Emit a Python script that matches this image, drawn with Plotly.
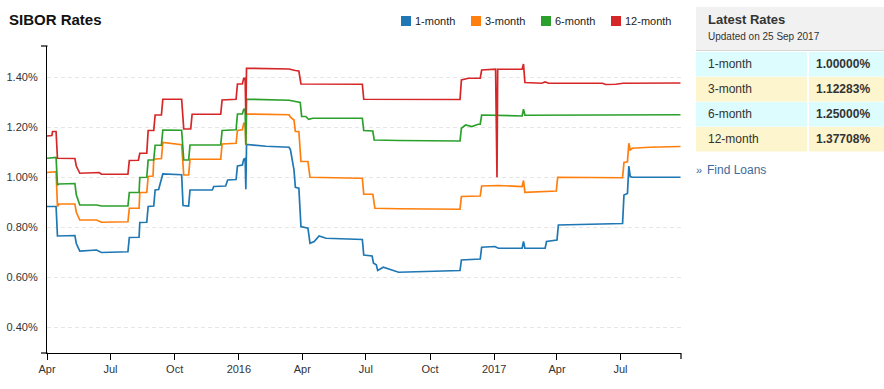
import plotly.graph_objects as go

# ---------------- data ----------------
dates_1m = ["2015-04-01","2015-04-14","2015-04-16","2015-05-11","2015-05-13","2015-05-18","2015-06-11","2015-06-18",
            "2015-07-26","2015-07-28","2015-08-11","2015-08-12","2015-08-22","2015-08-24","2015-09-01","2015-09-03",
            "2015-09-08","2015-09-14","2015-10-11","2015-10-13","2015-10-21","2015-10-23","2015-11-24","2015-11-26",
            "2015-12-13","2015-12-16","2015-12-28","2015-12-30","2016-01-06","2016-01-08","2016-01-10","2016-01-11",
            "2016-01-12","2016-02-09","2016-03-13","2016-03-15","2016-03-20","2016-03-22","2016-03-27","2016-03-30",
            "2016-04-09","2016-04-12","2016-04-18","2016-04-25","2016-05-05","2016-06-22","2016-06-26","2016-06-28",
            "2016-07-10","2016-07-12","2016-07-16","2016-07-18","2016-07-26","2016-08-17","2016-11-13","2016-11-15",
            "2016-12-12","2016-12-14","2017-01-02","2017-01-07","2017-02-10","2017-02-12","2017-02-14","2017-03-15",
            "2017-03-17","2017-04-01","2017-04-03","2017-07-04","2017-07-06","2017-07-11","2017-07-13","2017-07-15",
            "2017-07-18","2017-09-25"]
vals_1m = [0.883,0.883,0.765,0.767,0.735,0.705,0.709,0.699,
           0.702,0.759,0.760,0.819,0.820,0.883,0.885,0.949,
           0.951,1.013,1.010,0.887,0.885,0.949,0.949,0.963,
           0.965,0.989,0.991,1.045,1.049,1.072,1.075,0.952,
           1.131,1.124,1.120,1.110,1.030,0.960,0.956,0.803,
           0.796,0.736,0.743,0.765,0.756,0.750,0.751,0.689,
           0.685,0.656,0.650,0.627,0.640,0.620,0.627,0.669,
           0.673,0.720,0.723,0.716,0.716,0.743,0.716,0.716,
           0.743,0.749,0.809,0.815,0.929,0.935,1.045,1.003,
           1.000,1.000]

dates_3m = ["2015-04-01","2015-04-14","2015-04-16","2015-04-18","2015-05-11","2015-05-13","2015-05-18","2015-06-11",
            "2015-06-18","2015-07-26","2015-07-28","2015-08-11","2015-08-12","2015-08-22","2015-08-24","2015-08-31",
            "2015-09-01","2015-09-12","2015-09-14","2015-10-11","2015-10-14","2015-10-21","2015-10-23","2015-12-06",
            "2015-12-08","2015-12-28","2015-12-30","2016-01-06","2016-01-08","2016-01-10","2016-01-11","2016-01-12",
            "2016-03-13","2016-03-15","2016-03-20","2016-03-22","2016-03-27","2016-03-30","2016-04-09","2016-04-12",
            "2016-06-22","2016-06-26","2016-06-28","2016-07-11","2016-07-14","2016-08-17","2016-11-13","2016-11-15",
            "2016-12-12","2016-12-14","2017-01-07","2017-02-10","2017-02-12","2017-02-14","2017-03-31","2017-04-02",
            "2017-07-04","2017-07-06","2017-07-11","2017-07-13","2017-07-15","2017-07-18","2017-08-11","2017-09-25"]
vals_3m = [1.019,1.022,0.883,0.893,0.893,0.860,0.829,0.829,
           0.820,0.822,0.876,0.876,0.939,0.939,1.003,1.005,
           1.072,1.075,1.139,1.130,1.009,1.009,1.072,1.072,
           1.133,1.136,1.187,1.190,1.216,1.216,1.129,1.253,
           1.250,1.240,1.229,1.183,1.183,1.063,1.063,1.000,
           0.996,0.996,0.932,0.932,0.876,0.874,0.872,0.923,
           0.925,0.965,0.967,0.963,0.987,0.940,0.945,1.000,
           0.998,1.059,1.062,1.136,1.109,1.116,1.120,1.123]

dates_6m = ["2015-04-01","2015-04-14","2015-04-16","2015-04-18","2015-05-11","2015-05-13","2015-05-18","2015-06-11",
            "2015-06-18","2015-07-26","2015-07-28","2015-08-11","2015-08-12","2015-08-22","2015-08-24","2015-09-01",
            "2015-09-03","2015-09-12","2015-09-14","2015-10-11","2015-10-14","2015-10-21","2015-10-23","2015-12-06",
            "2015-12-08","2015-12-28","2015-12-30","2016-01-06","2016-01-08","2016-01-10","2016-01-11","2016-01-12",
            "2016-03-13","2016-03-24","2016-03-29","2016-03-31","2016-04-06","2016-04-10","2016-04-16","2016-06-22",
            "2016-06-26","2016-06-28","2016-07-11","2016-07-13","2016-08-17","2016-11-13","2016-11-15","2016-11-21",
            "2016-11-30","2016-12-09","2016-12-12","2016-12-14","2017-02-10","2017-02-12","2017-02-14","2017-09-25"]
vals_6m = [1.076,1.079,0.969,0.973,0.975,0.930,0.889,0.889,
           0.885,0.885,0.939,0.939,0.999,1.000,1.069,1.069,
           1.128,1.128,1.189,1.188,1.069,1.069,1.129,1.129,
           1.187,1.190,1.253,1.253,1.272,1.272,1.130,1.312,
           1.308,1.303,1.299,1.243,1.243,1.232,1.236,1.236,
           1.236,1.187,1.185,1.149,1.147,1.145,1.196,1.209,
           1.203,1.212,1.212,1.249,1.245,1.272,1.248,1.250]

dates_12m = ["2015-04-01","2015-04-08","2015-04-09","2015-04-14","2015-04-16","2015-05-11","2015-05-13","2015-05-18",
             "2015-06-15","2015-06-18","2015-07-26","2015-07-28","2015-08-10","2015-08-12","2015-08-22","2015-08-24",
             "2015-09-01","2015-09-03","2015-09-12","2015-09-14","2015-10-11","2015-10-14","2015-10-24","2015-10-26",
             "2015-12-06","2015-12-08","2015-12-28","2015-12-30","2016-01-06","2016-01-08","2016-01-10","2016-01-11",
             "2016-01-12","2016-03-13","2016-03-22","2016-03-27","2016-03-30","2016-06-22","2016-06-26","2016-06-28",
             "2016-11-13","2016-11-15","2016-11-25","2016-12-12","2016-12-14","2017-01-03","2017-01-04","2017-01-05",
             "2017-01-06","2017-02-10","2017-02-12","2017-02-14","2017-03-10","2017-03-15","2017-03-20","2017-06-05",
             "2017-06-10","2017-06-24","2017-07-05","2017-09-25"]
vals_12m = [1.165,1.167,1.183,1.183,1.076,1.075,1.045,1.016,
            1.019,1.012,1.012,1.067,1.068,1.096,1.096,1.187,
            1.187,1.249,1.249,1.312,1.312,1.193,1.193,1.252,
            1.252,1.309,1.312,1.373,1.373,1.396,1.396,1.250,
            1.436,1.433,1.427,1.425,1.373,1.372,1.372,1.312,
            1.311,1.389,1.396,1.396,1.429,1.432,1.000,1.000,
            1.432,1.432,1.453,1.379,1.376,1.381,1.376,1.376,
            1.371,1.372,1.376,1.377]

series_names = ["1-month", "3-month", "6-month", "12-month"]
series_colors = ["#1f77b4", "#ff7f0e", "#2ca02c", "#d62728"]
series_dates = [dates_1m, dates_3m, dates_6m, dates_12m]
series_vals = [vals_1m, vals_3m, vals_6m, vals_12m]

y_ticks = [0.4, 0.6, 0.8, 1.0, 1.2, 1.4]
y_tick_text = ["0.40%", "0.60%", "0.80%", "1.00%", "1.20%", "1.40%"]
x_tick_dates = ["2015-04-01", "2015-07-01", "2015-10-01", "2016-01-01", "2016-04-01",
                "2016-07-01", "2016-10-01", "2017-01-01", "2017-04-01", "2017-07-01"]
x_tick_text = ["Apr", "Jul", "Oct", "2016", "Apr", "Jul", "Oct", "2017", "Apr", "Jul"]

latest_labels = ["1-month", "3-month", "6-month", "12-month"]
latest_values = ["1.00000%", "1.12283%", "1.25000%", "1.37708%"]
updated_text = "Updated on 25 Sep 2017"

# ---------------- layout helpers ----------------
W, H = 884, 389
L, R, T, B = 47, 203, 46, 36
PW, PH = W - L - R, H - T - B
FONT = "Arial, 'Liberation Sans', sans-serif"


def px(x):
    return (x - L) / PW


def py(y):
    return (H - B - y) / PH


fig = go.Figure()
for name, col, d, v in zip(series_names, series_colors, series_dates, series_vals):
    fig.add_trace(go.Scatter(x=d, y=v, mode="lines", name=name,
                             line=dict(color=col, width=1.7), showlegend=False))

shapes = []
annotations = []

# title
annotations.append(dict(x=px(7), y=py(20), xref="paper", yref="paper", text="<b>SIBOR Rates</b>",
                        showarrow=False, xanchor="left", yanchor="middle",
                        font=dict(family=FONT, size=15, color="#111")))

# custom legend
leg_x = [401, 471, 541, 611]
for lx, name, col in zip(leg_x, series_names, series_colors):
    shapes.append(dict(type="rect", xref="paper", yref="paper", x0=px(lx), x1=px(lx + 10),
                       y0=py(26), y1=py(16), fillcolor=col, line=dict(width=0)))
    annotations.append(dict(x=px(lx + 12), y=py(21), xref="paper", yref="paper", text=name,
                            showarrow=False, xanchor="left", yanchor="middle",
                            font=dict(family=FONT, size=11, color="#222")))

# axis outer ticks (d3 style)
shapes.append(dict(type="line", xref="paper", yref="paper", x0=px(41), x1=px(47.5), y0=py(46), y1=py(46),
                   line=dict(color="#000", width=1.2)))
shapes.append(dict(type="line", xref="paper", yref="paper", x0=px(41), x1=px(47.5), y0=py(353), y1=py(353),
                   line=dict(color="#000", width=1.2)))
shapes.append(dict(type="line", xref="paper", yref="paper", x0=px(681), x1=px(681), y0=py(353), y1=py(359),
                   line=dict(color="#000", width=1.2)))

# right panel
shapes.append(dict(type="rect", xref="paper", yref="paper", x0=px(696), x1=px(884), y0=py(50), y1=py(7),
                   fillcolor="#f1f1f1", line=dict(width=0)))
shapes.append(dict(type="line", xref="paper", yref="paper", x0=px(696), x1=px(884), y0=py(50.5), y1=py(50.5),
                   line=dict(color="#d8d8d8", width=1)))
annotations.append(dict(x=px(706), y=py(20), xref="paper", yref="paper", text="<b>Latest Rates</b>",
                        showarrow=False, xanchor="left", yanchor="middle",
                        font=dict(family=FONT, size=13, color="#333")))
annotations.append(dict(x=px(706), y=py(36), xref="paper", yref="paper", text=updated_text,
                        showarrow=False, xanchor="left", yanchor="middle",
                        font=dict(family=FONT, size=10, color="#333")))
row_colors = ["#dcfcfd", "#fdf5cd", "#dcfcfd", "#fdf5cd"]
for i, (lab, val) in enumerate(zip(latest_labels, latest_values)):
    top = 52 + i * 25
    bot = top + 24.5
    shapes.append(dict(type="rect", xref="paper", yref="paper", x0=px(696), x1=px(807), y0=py(bot), y1=py(top),
                       fillcolor=row_colors[i], line=dict(width=0)))
    shapes.append(dict(type="rect", xref="paper", yref="paper", x0=px(809), x1=px(884), y0=py(bot), y1=py(top),
                       fillcolor=row_colors[i], line=dict(width=0)))
    annotations.append(dict(x=px(706), y=py((top + bot) / 2), xref="paper", yref="paper", text=lab,
                            showarrow=False, xanchor="left", yanchor="middle",
                            font=dict(family=FONT, size=12, color="#333")))
    annotations.append(dict(x=px(872), y=py((top + bot) / 2), xref="paper", yref="paper", text="<b>" + val + "</b>",
                            showarrow=False, xanchor="right", yanchor="middle",
                            font=dict(family=FONT, size=12, color="#333")))
annotations.append(dict(x=px(694), y=py(170), xref="paper", yref="paper", text="»",
                        showarrow=False, xanchor="left", yanchor="middle",
                        font=dict(family=FONT, size=11, color="#3c6a9c")))
annotations.append(dict(x=px(705), y=py(170), xref="paper", yref="paper", text="Find Loans",
                        showarrow=False, xanchor="left", yanchor="middle",
                        font=dict(family=FONT, size=12, color="#3c6a9c")))

fig.update_layout(
    width=W, height=H,
    margin=dict(l=L, r=R, t=T, b=B, pad=0, autoexpand=False),
    paper_bgcolor="white", plot_bgcolor="white",
    font=dict(family=FONT, size=11, color="#333"),
    shapes=shapes, annotations=annotations,
    hovermode=False,
)
fig.update_xaxes(
    type="date", range=["2015-04-01", "2017-09-25 18:00"],
    tickvals=x_tick_dates, ticktext=x_tick_text, automargin=False,
    showgrid=False, zeroline=False,
    showline=True, linecolor="#000", linewidth=1.2,
    ticks="outside", ticklen=6, tickcolor="#000", tickwidth=1.2,
    tickfont=dict(family=FONT, size=11, color="#333"),
)
fig.update_yaxes(
    range=[0.297, 1.525], automargin=False,
    tickvals=y_ticks, ticktext=y_tick_text,
    showgrid=True, gridcolor="#e6e6e6", gridwidth=1, griddash="4px,3px",
    zeroline=False, showline=True, linecolor="#000", linewidth=1.2,
    ticks="", ticklabelstandoff=6,
    tickfont=dict(family=FONT, size=11, color="#333"),
)

fig.write_html(
    "out.html",
    config={"displayModeBar": False},
    post_script="document.body.style.margin='0';document.body.style.overflow='hidden';",
)
